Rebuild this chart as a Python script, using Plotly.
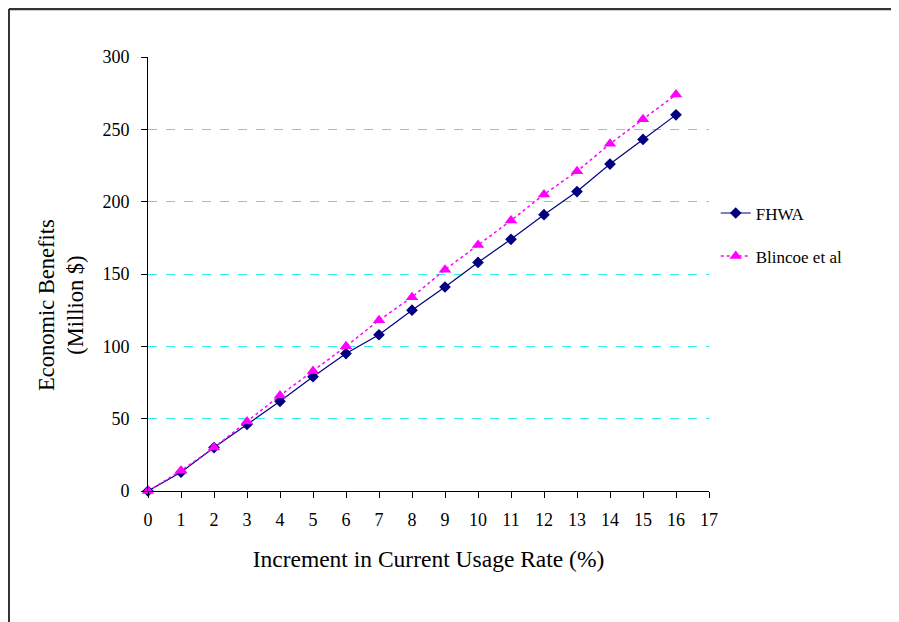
import plotly.graph_objects as go

x_vals = list(range(0, 17))
fhwa = [0, 13, 30, 46, 62, 79, 95, 108, 125, 141, 158, 174, 191, 207, 226, 243, 260]
blincoe = [0, 14, 30, 48, 66, 83, 100, 118, 134, 153, 170, 187, 205, 221, 240, 257, 274]
x_ticks = list(range(0, 18))
y_ticks = [0, 50, 100, 150, 200, 250, 300]

FONT = "Liberation Serif, Times New Roman, serif"

fig = go.Figure()
fig.add_trace(go.Scatter(
    x=x_vals, y=fhwa, name="FHWA", mode="lines+markers",
    line=dict(color="#000080", width=1.2),
    marker=dict(symbol="diamond", size=9, color="#000080"),
    cliponaxis=False, legendgroup="a",
))
fig.add_trace(go.Scatter(
    x=x_vals, y=blincoe, name="Blincoe et al", mode="lines+markers",
    line=dict(color="#FF00FF", width=1.5, dash="dot"),
    marker=dict(symbol="triangle-up", size=11, color="#FF00FF"),
    cliponaxis=False, legendgroup="b",
))

fig.update_layout(
    width=891, height=614,
    margin=dict(l=140, r=190, t=49, b=131),
    paper_bgcolor="white", plot_bgcolor="white",
    font=dict(family=FONT, color="black", size=18),
    showlegend=True,
    legend=dict(
        x=1.012, xanchor="left", y=0.59, yanchor="middle",
        font=dict(family=FONT, size=17),
        tracegroupgap=18, traceorder="grouped",
        bgcolor="rgba(0,0,0,0)",
    ),
    xaxis=dict(
        range=[0, 17], tickvals=x_ticks, ticktext=[str(v) for v in x_ticks],
        showline=True, linecolor="black", linewidth=1,
        ticks="outside", ticklen=6, tickcolor="black",
        showgrid=False, zeroline=False,
        ticklabelstandoff=6,
        title=dict(text="Increment in Current Usage Rate (%)", font=dict(size=23.5), standoff=21),
    ),
    yaxis=dict(
        range=[0, 300], tickvals=y_ticks,
        showline=True, linecolor="black", linewidth=1,
        ticks="outside", ticklen=6, tickcolor="black",
        showgrid=True, gridcolor="#33EEEE", griddash="dash", gridwidth=1,
        zeroline=False,
        ticklabelstandoff=8,
    ),
    annotations=[
        dict(text="Economic Benefits<br>(Million $)", xref="paper", yref="paper",
             x=-0.155, y=0.4286, xanchor="center", yanchor="middle",
             textangle=-90, showarrow=False, font=dict(size=22.5, family=FONT)),
    ],
    shapes=[
        dict(type="line", xref="paper", yref="paper", x0=-0.2478, x1=1.34, y0=1.1105, y1=1.1105,
             line=dict(color="#333333", width=2.5)),
        dict(type="line", xref="paper", yref="paper", x0=-0.2478, x1=-0.2478, y0=1.1105, y1=-0.31,
             line=dict(color="#333333", width=2)),
    ],
)

fig.write_html("out.html")
